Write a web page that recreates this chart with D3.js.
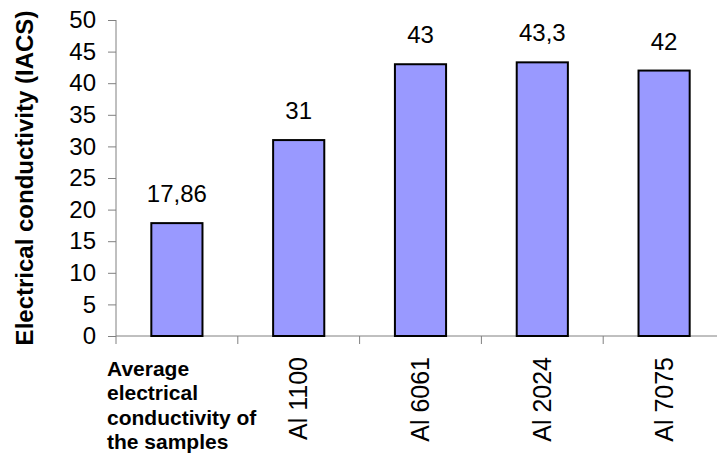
<!DOCTYPE html>
<html>
<head>
<meta charset="utf-8">
<script src="https://cdn.jsdelivr.net/npm/d3@7"></script>
<style>
    body { margin: 0; background: #fff; }
    svg { display: block; font-family: "Liberation Sans", Arial, sans-serif; }
</style>
</head>
<body>
<div class="chart"></div>
<script>
// data
var categories = ["Average\nelectrical\nconductivity of\nthe samples", "Al 1100", "Al 6061", "Al 2024", "Al 7075"];
var values = [17.86, 31, 43, 43.3, 42];
var yTicks = [0, 5, 10, 15, 20, 25, 30, 35, 40, 45, 50];
var yTitle = "Electrical conductivity (IACS)";

var width = 717,
    height = 455;

var svg = d3.select(".chart").append("svg")
    .attr("width", width)
    .attr("height", height);

var x = d3.scaleBand()
    .domain(categories)
    .range([116, 725])
    .paddingInner(0.58)
    .paddingOuter(0.29);

var y = d3.scaleLinear()
    .domain([0, 50])
    .range([336, 20]);

// comma as decimal mark
var fmt = d3.formatLocale({decimal: ",", thousands: ".", grouping: [3], currency: ["", ""]}).format("~g");

var axisColor = "#808080";

// y axis
var yAxis = svg.append("g")
    .attr("transform", "translate(116,0)")
    .call(d3.axisLeft(y).tickValues(yTicks).tickSize(8).tickPadding(12).tickFormat(d3.format("d")));
yAxis.select(".domain").attr("stroke", axisColor).attr("d", "M0," + y(50) + "V" + y(0));
yAxis.selectAll(".tick line").attr("stroke", axisColor);
yAxis.selectAll(".tick text")
    .attr("fill", "#000")
    .style("font-size", "24px")
    .style("font-family", "'Liberation Sans', Arial, sans-serif");

// x axis: line and boundary ticks
var step = x.step();
var x0 = x.range()[0];
svg.append("line")
    .attr("x1", x0).attr("x2", width)
    .attr("y1", y(0)).attr("y2", y(0))
    .attr("stroke", axisColor);

svg.selectAll(".xtick")
    .data(d3.range(categories.length + 1))
    .enter().append("line")
    .attr("class", "xtick")
    .attr("x1", function (i) { return x0 + i * step; })
    .attr("x2", function (i) { return x0 + i * step; })
    .attr("y1", y(0))
    .attr("y2", y(0) + 8)
    .attr("stroke", axisColor);

// bars
svg.selectAll(".bar")
    .data(values)
    .enter().append("rect")
    .attr("class", "bar")
    .attr("x", function (d, i) { return x(categories[i]); })
    .attr("y", function (d) { return y(d); })
    .attr("width", x.bandwidth())
    .attr("height", function (d) { return y(0) - y(d); })
    .attr("fill", "#9999ff")
    .attr("stroke", "#000")
    .attr("stroke-width", 2);

// value labels
svg.selectAll(".val")
    .data(values)
    .enter().append("text")
    .attr("class", "val")
    .attr("x", function (d, i) { return x(categories[i]) + x.bandwidth() / 2; })
    .attr("y", function (d) { return y(d) - 21; })
    .attr("text-anchor", "middle")
    .style("font-size", "24px")
    .text(function (d) { return fmt(d); });

// category labels
categories.forEach(function (c, i) {
    var cx = x(c) + x.bandwidth() / 2;
    if (i == 0) {
        var t = svg.append("text")
            .attr("x", 107)
            .attr("y", 376)
            .style("font-size", "21px")
            .style("font-weight", "bold");
        c.split("\n").forEach(function (line, k) {
            t.append("tspan")
                .attr("x", 107)
                .attr("y", 376 + k * 24.3)
                .text(line);
        });
    } else {
        svg.append("text")
            .attr("transform", "translate(" + cx + ",357) rotate(-90)")
            .attr("dy", "0.35em")
            .attr("text-anchor", "end")
            .style("font-size", "25px")
            .text(c);
    }
});

// y title
svg.append("text")
    .attr("transform", "translate(33," + ((y(0) + y(50)) / 2) + ") rotate(-90)")
    .attr("text-anchor", "middle")
    .style("font-size", "24px")
    .style("font-weight", "bold")
    .text(yTitle);
</script>
</body>
</html>
